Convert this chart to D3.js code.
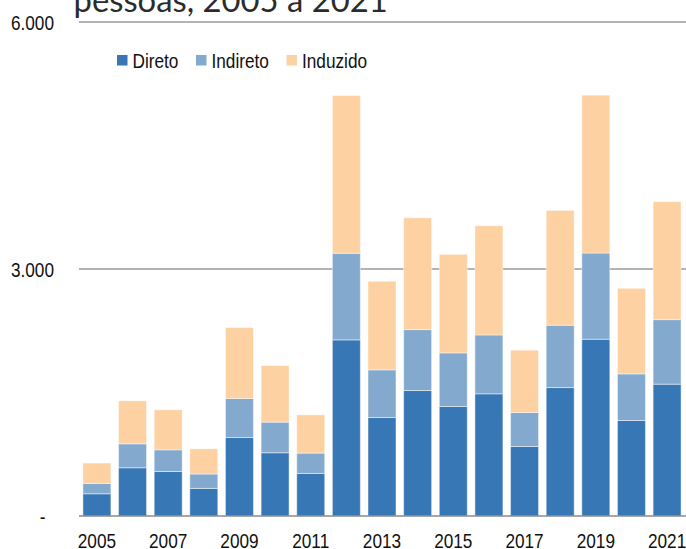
<!DOCTYPE html>
<html>
<head>
<meta charset="utf-8">
<script src="https://cdn.jsdelivr.net/npm/d3@7"></script>
<style>
  html, body { margin: 0; padding: 0; background: #fff; }
  svg { display: block; }
  .lbl { font-family: "Liberation Sans", Arial, sans-serif; fill: #111; }
</style>
</head>
<body>
<svg id="chart" width="686" height="549"></svg>
<script>
const years = ["2005","2006","2007","2008","2009","2010","2011","2012","2013","2014","2015","2016","2017","2018","2019","2020","2021"];
const direto   = [270, 586, 541, 335, 954, 768, 517, 2139, 1196, 1524, 1330, 1484, 844, 1560, 2147, 1160, 1601];
const indireto = [126, 291, 263, 175, 473, 372, 247, 1052, 579, 740, 651, 715, 413, 757, 1047, 566, 784];
const induzido = [247, 522, 486, 306, 861, 687, 465, 1916, 1076, 1358, 1197, 1326, 757, 1395, 1917, 1040, 1432];
const seriesNames = ["Direto", "Indireto", "Induzido"];
const seriesColors = ["#3877b5", "#84a9cf", "#fdd1a1"];
const yTicks = [0, 3000, 6000];
const xTickLabels = ["2005","2007","2009","2011","2013","2015","2017","2019","2021"];
const titleText = "pessoas, 2005 a 2021";

const svg = d3.select("#chart");
const NARROW = 0.82;

const rows = years.map((y, i) => ({ year: y, Direto: direto[i], Indireto: indireto[i], Induzido: induzido[i] }));
const stacked = d3.stack().keys(seriesNames)(rows);

const x = d3.scaleBand().domain(years).range([79, 685]).paddingInner(0.215).paddingOuter(0.11);
const y = d3.scaleLinear().domain([0, 6000]).range([516, 22]);
const color = d3.scaleOrdinal().domain(seriesNames).range(seriesColors);

const loc = d3.formatLocale({ decimal: ",", thousands: ".", grouping: [3], currency: ["R$", ""] });
const fmt = loc.format(",.0f");

// title (cut off at top)
const title = svg.append("text")
  .attr("x", 73.5).attr("y", 12)
  .attr("font-family", "Lato, 'Open Sans', sans-serif")
  .attr("font-weight", 400)
  .attr("fill", "#2b2b2b")
  .attr("font-size", 36)
  .text(titleText);
const tw = title.node().getComputedTextLength();
title.attr("font-size", 36 * 314.5 / tw);

// gridlines
svg.append("g").selectAll("line")
  .data(yTicks.filter(d => d > 0))
  .join("line")
  .attr("x1", 79).attr("x2", 686)
  .attr("y1", d => y(d)).attr("y2", d => y(d))
  .attr("stroke", "#9a9a9a").attr("stroke-width", 1.5);

// bars
svg.append("g").selectAll("g")
  .data(stacked)
  .join("g")
  .attr("fill", d => color(d.key))
  .selectAll("rect")
  .data(d => d)
  .join("rect")
  .attr("x", d => x(d.data.year))
  .attr("width", x.bandwidth())
  .attr("y", d => y(d[1]))
  .attr("height", d => y(d[0]) - y(d[1]))
  .attr("stroke", "#ffffff").attr("stroke-opacity", 0.45).attr("stroke-width", 1);

// baseline
svg.append("line")
  .attr("x1", 79).attr("x2", 686)
  .attr("y1", y(0)).attr("y2", y(0))
  .attr("stroke", "#8a8a8a").attr("stroke-width", 1.6);

// y labels
svg.append("g").selectAll("g")
  .data(yTicks)
  .join("g")
  .attr("transform", d => `translate(${d === 0 ? 45.5 : 54},${y(d)}) scale(${NARROW},1)`)
  .append("text")
  .attr("class", "lbl")
  .attr("dy", "0.36em")
  .attr("text-anchor", "end")
  .attr("font-size", 21)
  .text(d => d === 0 ? "-" : fmt(d));

// x labels
svg.append("g").selectAll("g")
  .data(xTickLabels)
  .join("g")
  .attr("transform", d => `translate(${x(d) + x.bandwidth() / 2},547.5) scale(${NARROW},1)`)
  .append("text")
  .attr("class", "lbl")
  .attr("text-anchor", "middle")
  .attr("font-size", 21)
  .text(d => d);

// legend
const legendX = [117, 196, 286.5];
const lg = svg.append("g").selectAll("g")
  .data(seriesNames)
  .join("g")
  .attr("transform", (d, i) => `translate(${legendX[i]},55)`);
lg.append("rect").attr("width", 10.5).attr("height", 10.5).attr("fill", d => color(d));
lg.append("g")
  .attr("transform", `translate(15.5,5.5) scale(${NARROW},1)`)
  .append("text").attr("class", "lbl")
  .attr("dy", "0.36em")
  .attr("font-size", 21)
  .text(d => d);
</script>
</body>
</html>
